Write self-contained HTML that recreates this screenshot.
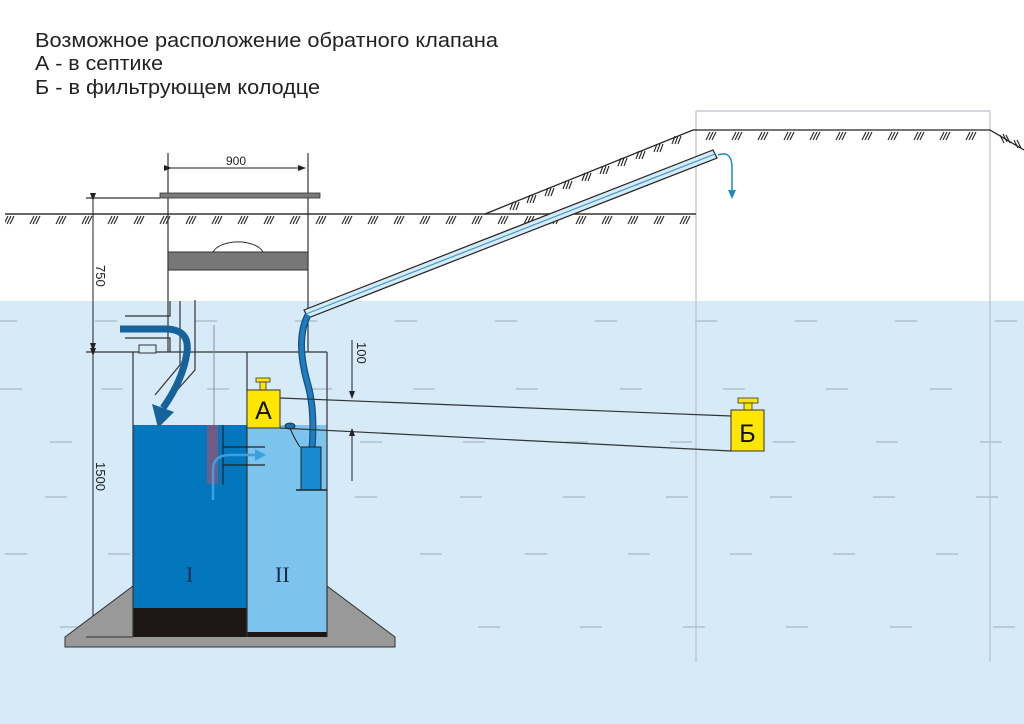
<!DOCTYPE html>
<html><head><meta charset="utf-8"><style>
html,body{margin:0;padding:0;background:#fff;}
svg{display:block}
</style></head><body>
<svg width="1024" height="724" viewBox="0 0 1024 724" xmlns="http://www.w3.org/2000/svg" font-family="Liberation Sans, sans-serif">
<defs>
<marker id="ar" markerWidth="8" markerHeight="8" refX="7" refY="4" orient="auto" markerUnits="userSpaceOnUse"><path d="M0,1 L8,4 L0,7 z" fill="#222"/></marker>
<pattern id="hatch" x="0" y="0" width="26" height="60" patternUnits="userSpaceOnUse"><path d="M4,9 L8,1 M7,9 L11,1 M10,9 L14,1" stroke="#222" stroke-width="1.1"/></pattern>
</defs>
<rect x="0" y="0" width="1024" height="724" fill="#fff"/>
<rect x="0" y="301" width="1024" height="423" fill="#d6eaf8"/>
<g stroke="#b0bfcc" stroke-width="1.5">
<path d="M-5,321h22M95,321h22M195,321h22M295,321h22M395,321h22M495,321h22M595,321h22M695,321h22M795,321h22M895,321h22M995,321h22"/>
<path d="M0,389h22M101,389h22M207,389h22M310,389h22M413,389h22M516,389h22M620,389h22M723,389h22M826,389h22M930,389h22"/>
<path d="M50,442h22M153,442h22M256,442h22M360,442h22M463,442h22M566,442h22M670,442h22M773,442h22M876,442h22M980,442h22"/>
<path d="M45,497h22M150,497h22M355,497h22M460,497h22M563,497h22M666,497h22M770,497h22M873,497h22M976,497h22"/>
<path d="M5,554h22M108,554h22M420,554h22M525,554h22M628,554h22M730,554h22M833,554h22M936,554h22"/>
<path d="M60,627h22M360,627h22M478,627h22M580,627h22M683,627h22M786,627h22M890,627h22M993,627h22"/>
</g>
<path d="M696,111 V662 M990,111 V662 M696,111 H990" stroke="#b8c0c8" stroke-width="1.2" fill="none"/>
<text x="35" y="47" font-size="20" fill="#222" textLength="463" lengthAdjust="spacingAndGlyphs">Возможное расположение обратного клапана</text>
<text x="35" y="70" font-size="20" fill="#222" textLength="128" lengthAdjust="spacingAndGlyphs">А - в септике</text>
<text x="35" y="94" font-size="20" fill="#222" textLength="285" lengthAdjust="spacingAndGlyphs">Б - в фильтрующем колодце</text>
<line x1="5" y1="214" x2="696" y2="214" stroke="#333" stroke-width="1.5"/>
<g transform="translate(0,215)"><rect x="5" y="0" width="691" height="10" fill="url(#hatch)"/></g>
<path d="M485,214 L693,130 L990,130 L1024,150" stroke="#222" stroke-width="1.3" fill="none"/>
<g transform="translate(0,131)"><rect x="700" y="0" width="290" height="10" fill="url(#hatch)"/></g>
<g stroke="#222" stroke-width="1.1">
<path d="M510,210 l3,-8 M513,210 l3,-8 M516,210 l3,-8"/>
<path d="M527,203 l3,-8 M530,203 l3,-8 M533,203 l3,-8"/>
<path d="M545,196 l3,-8 M548,196 l3,-8 M551,196 l3,-8"/>
<path d="M563,189 l3,-8 M566,189 l3,-8 M569,189 l3,-8"/>
<path d="M582,181 l3,-8 M585,181 l3,-8 M588,181 l3,-8"/>
<path d="M600,174 l3,-8 M603,174 l3,-8 M606,174 l3,-8"/>
<path d="M618,166 l3,-8 M621,166 l3,-8 M624,166 l3,-8"/>
<path d="M636,159 l3,-8 M639,159 l3,-8 M642,159 l3,-8"/>
<path d="M654,152 l3,-8 M657,152 l3,-8 M660,152 l3,-8"/>
<path d="M672,144 l3,-8 M675,144 l3,-8 M678,144 l3,-8"/>
<path d="M1000,135 l4,8 M1003,134 l4,8 M1006,135 l4,8 M1014,140 l4,8 M1017,140 l4,8"/>
</g>
<path d="M168,153 V352 M308,153 V352" stroke="#333" stroke-width="1.2"/>
<line x1="171" y1="168" x2="305" y2="168" stroke="#222" marker-start="url(#ar)" marker-end="url(#ar)" stroke-width="1"/>
<text x="226" y="165" font-size="12" fill="#222">900</text>
<rect x="160" y="193" width="160" height="5" fill="#7a7a7a" stroke="#333" stroke-width="0.8"/>
<path d="M213,252 A26,14 0 0 1 263,252 Z" fill="#fff" stroke="#333"/>
<rect x="168" y="252" width="140" height="18" fill="#777" stroke="#333"/>
<path d="M86,198 H160 M86,352 H327" stroke="#333" stroke-width="1.2"/>
<line x1="93" y1="200" x2="93" y2="350" stroke="#222" marker-start="url(#ar)" marker-end="url(#ar)"/>
<line x1="93" y1="355" x2="93" y2="636" stroke="#222" marker-start="url(#ar)" marker-end="url(#ar)"/>
<text transform="translate(96,265) rotate(90)" font-size="13" fill="#222">750</text>
<text transform="translate(96,462) rotate(90)" font-size="13" fill="#222">1500</text>
<polygon points="65,637 133,586 327,586 395,637 395,647 65,647" fill="#999" stroke="#333" stroke-width="1"/>
<line x1="86" y1="637" x2="133" y2="637" stroke="#333"/>
<rect x="133" y="425" width="114" height="183" fill="#0277bd"/>
<rect x="133" y="608" width="114" height="29" fill="#1c1614"/>
<rect x="247" y="425" width="80" height="207" fill="#7cc4ee"/>
<rect x="247" y="632" width="80" height="5" fill="#1c1614"/>
<path d="M133,352 V637 M247,352 V637 M327,352 V637" stroke="#333" stroke-width="1.2" fill="none"/>
<text x="186" y="582" font-size="22" font-family="Liberation Serif, serif" fill="#1a2a4a">I</text>
<text x="275" y="582" font-size="22" font-family="Liberation Serif, serif" fill="#1a2a4a">II</text>
<path d="M125,316 H170 V301 M180,301 V352 M125,338 H170 V352" stroke="#333" stroke-width="1.2" fill="none"/>
<path d="M195,300 V352" stroke="#333" stroke-width="1.2"/>
<path d="M180,352 V365 L155,395 M195,352 V370 L170,398" stroke="#333" stroke-width="1.2" fill="none"/>
<rect x="139" y="345" width="17" height="8" fill="#d6eaf8" stroke="#333"/>
<path d="M120,329 H165 Q190,329 187,352 Q183,380 163,408" stroke="#16639b" stroke-width="7" fill="none"/>
<polygon points="152,404 174,412 158,428" fill="#16639b"/>
<line x1="214" y1="325" x2="214" y2="425" stroke="#8a8a9a" stroke-width="1"/>
<rect x="207" y="425" width="11" height="59" fill="#a05070" opacity="0.7"/>
<path d="M223,425 V485 M223,447 H265 M223,465 H265" stroke="#222" stroke-width="1.2" fill="none"/>
<path d="M213,500 V470 Q213,455 230,455 H258" stroke="#3aa0e0" stroke-width="2.5" fill="none"/>
<polygon points="255,449 266,455 255,461" fill="#3aa0e0"/>
<path d="M304,310 L713,150 L717,158 L308,318 Z" fill="#d6eaf8" stroke="#222" stroke-width="1.2"/>
<line x1="306" y1="314" x2="715" y2="154" stroke="#3a9ad0" stroke-width="1.2"/>
<path d="M718,155 Q732,150 732,168 V190" stroke="#1f8ac0" stroke-width="1.5" fill="none"/>
<polygon points="728,190 736,190 732,199" fill="#1f8ac0"/>
<path d="M312,450 Q315,410 308,385 Q295,340 308,315" stroke="#1a4f7a" stroke-width="7" fill="none"/>
<path d="M312,450 Q315,410 308,385 Q295,340 308,315" stroke="#1a7ec0" stroke-width="4.5" fill="none"/>
<rect x="301" y="447" width="20" height="43" fill="#1a8ad0" stroke="#222"/>
<line x1="296" y1="490" x2="327" y2="490" stroke="#222" stroke-width="1.5"/>
<path d="M289,426 Q295,440 300,447" stroke="#222" fill="none"/>
<ellipse cx="290" cy="426" rx="5" ry="3" fill="#1a6fa8" stroke="#222" stroke-width="0.8"/>
<path d="M280,398 L731,416 M280,428 L731,451" stroke="#333" stroke-width="1.2"/>
<line x1="352" y1="340" x2="352" y2="398" stroke="#222" marker-end="url(#ar)"/>
<line x1="352" y1="481" x2="352" y2="429" stroke="#222" marker-end="url(#ar)"/>
<text transform="translate(357,342) rotate(90)" font-size="13" fill="#222">100</text>
<rect x="256" y="378" width="14" height="4" fill="#ffe600" stroke="#333" stroke-width="0.8"/>
<rect x="260" y="382" width="6" height="8" fill="#ffe600" stroke="#333" stroke-width="0.8"/>
<rect x="247" y="390" width="33" height="38" fill="#ffe600" stroke="#333"/>
<text x="263.5" y="419" font-size="25" text-anchor="middle" fill="#111">А</text>
<rect x="738" y="398" width="20" height="5" fill="#ffe600" stroke="#333" stroke-width="0.8"/>
<rect x="744" y="403" width="8" height="7" fill="#ffe600" stroke="#333" stroke-width="0.8"/>
<rect x="731" y="410" width="33" height="41" fill="#ffe600" stroke="#333"/>
<text x="747.5" y="442" font-size="25" text-anchor="middle" fill="#111">Б</text>
</svg>
</body></html>
